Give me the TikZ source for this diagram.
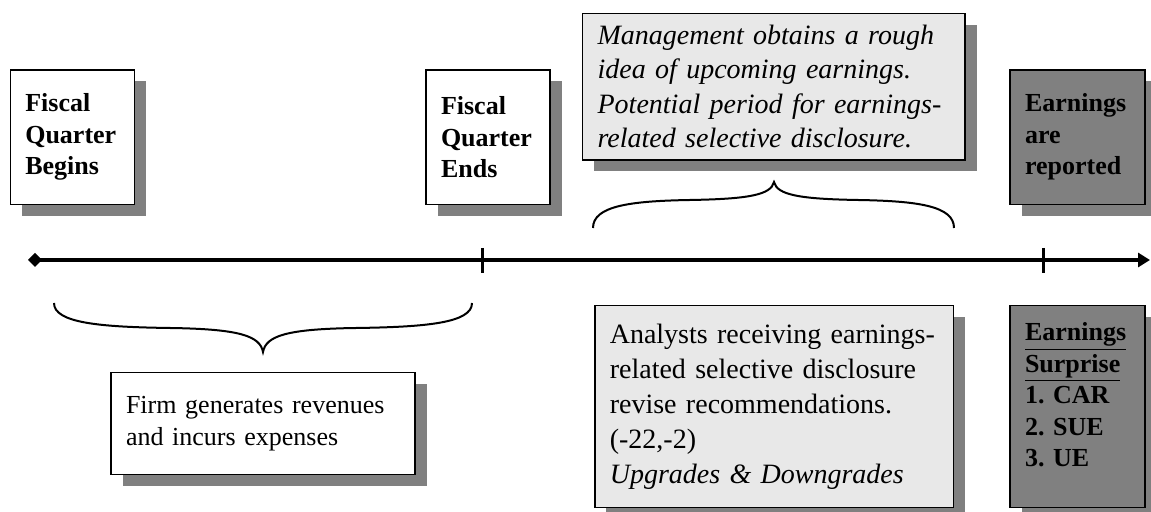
\documentclass[tikz,border=0pt]{standalone}
\usepackage{fontspec}
\setmainfont{Liberation Serif}
\usetikzlibrary{arrows.meta,shadows}
\definecolor{shadowgray}{RGB}{128,128,128}
\definecolor{lightbox}{RGB}{232,232,232}
\frenchspacing

\begin{document}
\begin{tikzpicture}[x=0.5pt, y=-0.5pt,
    event/.style={draw, line width=0.75pt, align=left, inner xsep=7.5pt, inner ysep=0pt,
      drop shadow={shadow xshift=5.75pt, shadow yshift=-5.75pt, fill=shadowgray, opacity=1}},
    small/.style={font=\fontsize{13}{15.75}\selectfont},
    boldsmall/.style={font=\fontsize{13}{15.75}\selectfont\bfseries},
    large/.style={font=\fontsize{14}{17.5}\selectfont},
    italiclarge/.style={font=\fontsize{14}{17.25}\selectfont\itshape},
    tick/.style={line width=1.5pt},
    curly/.style={line width=1pt}]
    \useasboundingbox (0,0) rectangle (1151,512);

    % Draw boxes above the time line
    \node[event, boldsmall, fill=white, text width=47pt, minimum height=67.2pt] (begins) at (72.3,137.2) {Fiscal\\Quarter\\Begins};
    \node[event, boldsmall, fill=white, text width=47pt, minimum height=67.2pt] (ends) at (488,137.2) {Fiscal\\Quarter\\Ends};
    \node[event, italiclarge, fill=lightbox, text width=176.2pt, minimum height=73.3pt] (insight) at (773.8,86.7) {Management obtains a rough\\idea of upcoming earnings.\\Potential period for earnings-\\related selective disclosure.};
    \node[event, boldsmall, fill=shadowgray, text width=52.5pt, minimum height=67.2pt] (reported) at (1077.5,137.2) {Earnings\\are\\reported};

    % Draw boxes below the time line
    \node[event, small, fill=white, text width=137pt, minimum height=50.8pt] (firm) at (263,423.5) {Firm generates revenues\\and incurs expenses};
    \node[event, large, fill=lightbox, text width=164.4pt, minimum height=101pt] (revise) at (774.2,406.7) {Analysts receiving earnings-\\related selective disclosure\\revise recommendations.\\(-22,-2)\\\textit{Upgrades \& Downgrades}};
    \node[event, boldsmall, fill=shadowgray, text width=52.5pt, minimum height=101pt] (surprise) at (1077.5,406.7) {\underline{Earnings}\\\underline{Surprise}\\1. CAR\\2. SUE\\3. UE\\[-4pt]\mbox{}};

    % Draw the time line
    \coordinate (start) at (28,260);
    \coordinate (finish) at (1150,260);
    \coordinate (qend) at (482,260);
    \coordinate (report) at (1043.7,260);
    \draw[line width=2pt, {Diamond[length=7pt,width=7pt]}-{Triangle[length=6pt,width=7pt]}] (start) -- (finish);
    \draw[tick] (qend) ++(0,-12) -- ++(0,25);
    \draw[tick] (report) ++(0,-12) -- ++(0,25);

    % Draw braces
    \draw[curly] (593,228) .. controls (593,206) and (630,201) .. (690,200) .. controls (748,199) and (771,195) .. (774,182) .. controls (777,195) and (800,199) .. (858,200) .. controls (918,201) and (954,206) .. (954,228);
    \draw[curly] (54,303) .. controls (54,323) and (100,327) .. (170,328) .. controls (240,329) and (260,336) .. (263,352) .. controls (266,336) and (286,329) .. (356,328) .. controls (426,327) and (472,323) .. (472,303);
\end{tikzpicture}
\end{document}
